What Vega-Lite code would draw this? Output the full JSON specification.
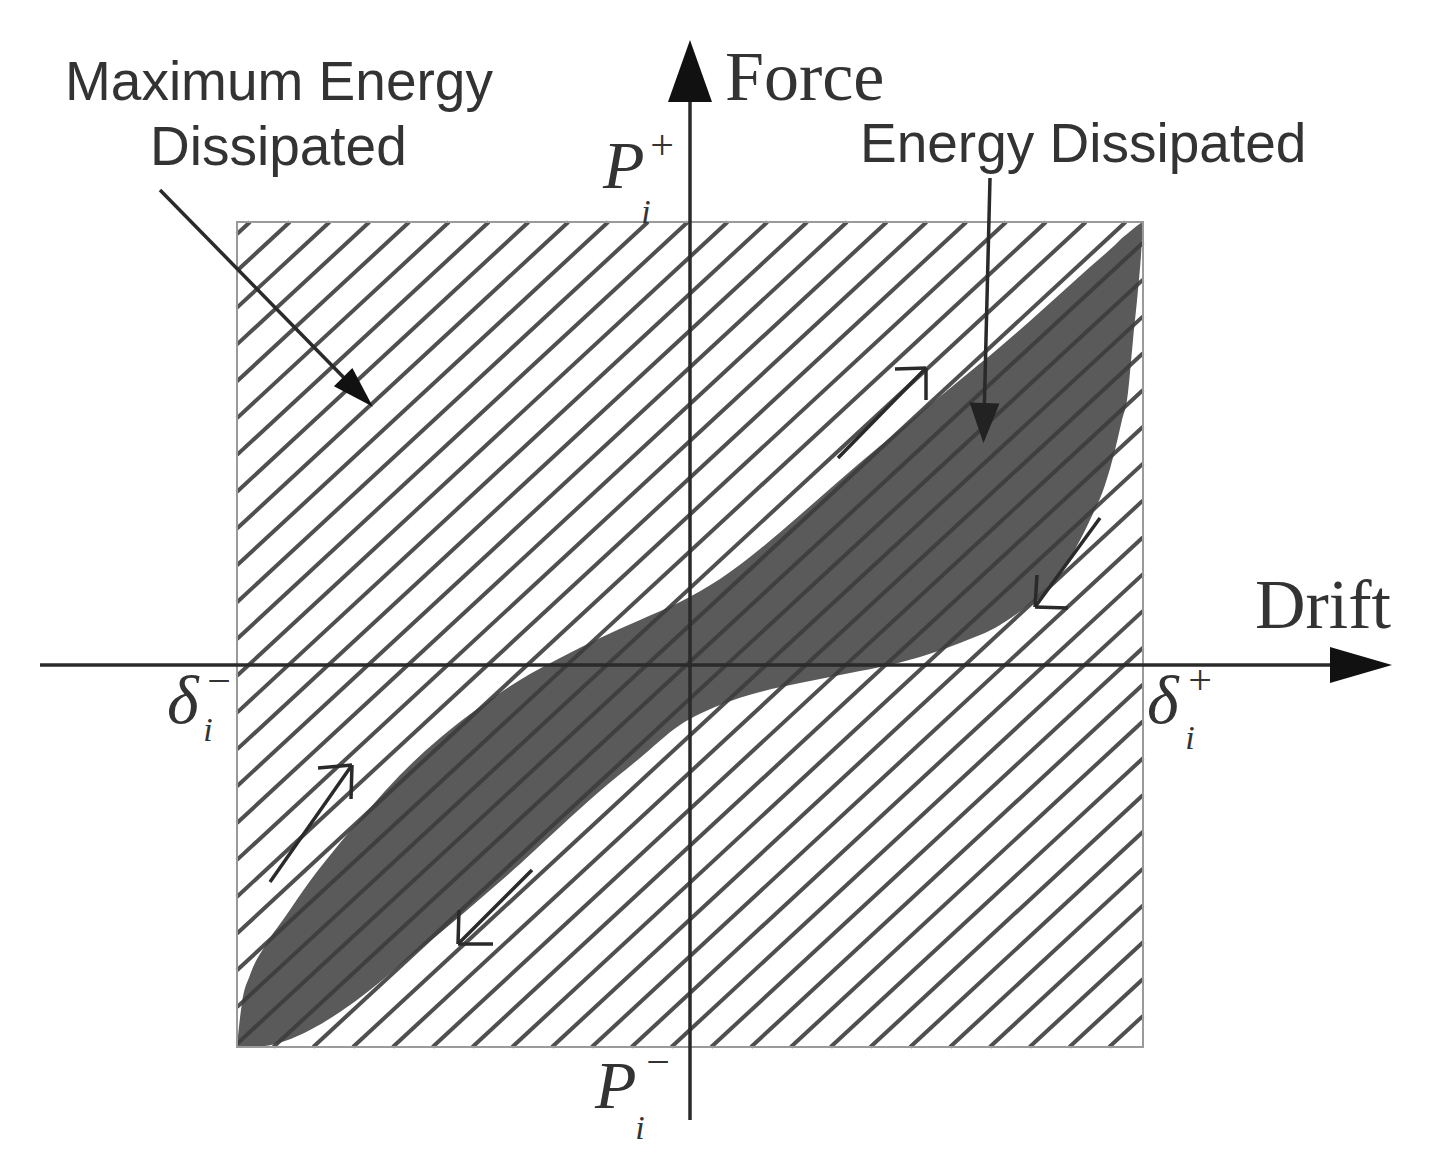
{
  "$schema": "https://vega.github.io/schema/vega-lite/v6.json",
  "width": 1430,
  "height": 1165,
  "autosize": {"type": "fit", "contains": "padding"},
  "padding": 0,
  "background": "white",
  "config": {"view": {"stroke": null}},
  "datasets": {
    "box": [{"x": -453, "x2": 453, "y": -382, "y2": 443}],
    "loop": [
      {"x": -453, "yu": -380, "yl": -382},
      {"x": -448, "yu": -338, "yl": -382},
      {"x": -440, "yu": -310, "yl": -382},
      {"x": -425, "yu": -281, "yl": -381},
      {"x": -405, "yu": -252, "yl": -376},
      {"x": -380, "yu": -216, "yl": -365},
      {"x": -350, "yu": -178, "yl": -347},
      {"x": -320, "yu": -143, "yl": -325},
      {"x": -290, "yu": -110, "yl": -300},
      {"x": -250, "yu": -73, "yl": -268},
      {"x": -210, "yu": -42, "yl": -234},
      {"x": -170, "yu": -15, "yl": -199},
      {"x": -130, "yu": 7, "yl": -162},
      {"x": -90, "yu": 27, "yl": -126},
      {"x": -50, "yu": 45, "yl": -93},
      {"x": -10, "yu": 63, "yl": -60},
      {"x": 30, "yu": 86, "yl": -40},
      {"x": 70, "yu": 116, "yl": -27},
      {"x": 110, "yu": 150, "yl": -18},
      {"x": 150, "yu": 185, "yl": -10},
      {"x": 190, "yu": 219, "yl": -2},
      {"x": 230, "yu": 252, "yl": 8},
      {"x": 270, "yu": 285, "yl": 22},
      {"x": 310, "yu": 318, "yl": 40},
      {"x": 350, "yu": 353, "yl": 71},
      {"x": 380, "yu": 380, "yl": 107},
      {"x": 400, "yu": 398, "yl": 145},
      {"x": 415, "yu": 411, "yl": 180},
      {"x": 425, "yu": 420, "yl": 215},
      {"x": 432, "yu": 427, "yl": 245},
      {"x": 437, "yu": 431, "yl": 265},
      {"x": 443, "yu": 436, "yl": 325},
      {"x": 448, "yu": 440, "yl": 375},
      {"x": 451, "yu": 442, "yl": 410},
      {"x": 453, "yu": 443, "yl": 443}
    ],
    "hatch": [
      {"x": -453, "y": 431.0, "x2": -440.0, "y2": 443},
      {"x": -453, "y": 394.2, "x2": -400.2, "y2": 443},
      {"x": -453, "y": 357.4, "x2": -360.4, "y2": 443},
      {"x": -453, "y": 320.6, "x2": -320.6, "y2": 443},
      {"x": -453, "y": 283.7, "x2": -280.8, "y2": 443},
      {"x": -453, "y": 246.9, "x2": -241.0, "y2": 443},
      {"x": -453, "y": 210.1, "x2": -201.2, "y2": 443},
      {"x": -453, "y": 173.3, "x2": -161.4, "y2": 443},
      {"x": -453, "y": 136.5, "x2": -121.6, "y2": 443},
      {"x": -453, "y": 99.7, "x2": -81.8, "y2": 443},
      {"x": -453, "y": 62.8, "x2": -42.0, "y2": 443},
      {"x": -453, "y": 26.0, "x2": -2.2, "y2": 443},
      {"x": -453, "y": -10.8, "x2": 37.6, "y2": 443},
      {"x": -453, "y": -47.6, "x2": 77.4, "y2": 443},
      {"x": -453, "y": -84.4, "x2": 117.2, "y2": 443},
      {"x": -453, "y": -121.2, "x2": 157.0, "y2": 443},
      {"x": -453, "y": -158.0, "x2": 196.8, "y2": 443},
      {"x": -453, "y": -194.9, "x2": 236.6, "y2": 443},
      {"x": -453, "y": -231.7, "x2": 276.4, "y2": 443},
      {"x": -453, "y": -268.5, "x2": 316.2, "y2": 443},
      {"x": -453, "y": -305.3, "x2": 356.0, "y2": 443},
      {"x": -453, "y": -342.1, "x2": 395.8, "y2": 443},
      {"x": -453, "y": -378.9, "x2": 435.6, "y2": 443},
      {"x": -416.6, "y": -382, "x2": 453, "y2": 422.3},
      {"x": -376.8, "y": -382, "x2": 453, "y2": 385.4},
      {"x": -337.0, "y": -382, "x2": 453, "y2": 348.6},
      {"x": -297.2, "y": -382, "x2": 453, "y2": 311.8},
      {"x": -257.4, "y": -382, "x2": 453, "y2": 275.0},
      {"x": -217.6, "y": -382, "x2": 453, "y2": 238.2},
      {"x": -177.8, "y": -382, "x2": 453, "y2": 201.4},
      {"x": -138.0, "y": -382, "x2": 453, "y2": 164.6},
      {"x": -98.2, "y": -382, "x2": 453, "y2": 127.7},
      {"x": -58.4, "y": -382, "x2": 453, "y2": 90.9},
      {"x": -18.6, "y": -382, "x2": 453, "y2": 54.1},
      {"x": 21.2, "y": -382, "x2": 453, "y2": 17.3},
      {"x": 61.0, "y": -382, "x2": 453, "y2": -19.5},
      {"x": 100.8, "y": -382, "x2": 453, "y2": -56.3},
      {"x": 140.6, "y": -382, "x2": 453, "y2": -93.2},
      {"x": 180.4, "y": -382, "x2": 453, "y2": -130.0},
      {"x": 220.2, "y": -382, "x2": 453, "y2": -166.8},
      {"x": 260.0, "y": -382, "x2": 453, "y2": -203.6},
      {"x": 299.8, "y": -382, "x2": 453, "y2": -240.4},
      {"x": 339.6, "y": -382, "x2": 453, "y2": -277.2},
      {"x": 379.4, "y": -382, "x2": 453, "y2": -314.0},
      {"x": 419.2, "y": -382, "x2": 453, "y2": -350.9}
    ],
    "lines": [
      {"part": "drift axis", "x": -650, "y": 0, "x2": 642, "y2": 0},
      {"part": "force axis", "x": 0, "y": -455, "x2": 0, "y2": 565},
      {"part": "max arrow", "x": -530, "y": 475, "x2": -335, "y2": 276},
      {"part": "energy arrow", "x": 300, "y": 487, "x2": 294, "y2": 245},
      {"part": "A shaft", "x": 148, "y": 207, "x2": 236, "y2": 297},
      {"part": "A barb1", "x": 236, "y": 297, "x2": 205, "y2": 296},
      {"part": "A barb2", "x": 236, "y": 297, "x2": 236, "y2": 265},
      {"part": "B shaft", "x": 410, "y": 147, "x2": 345, "y2": 58},
      {"part": "B barb1", "x": 345, "y": 58, "x2": 378, "y2": 57},
      {"part": "B barb2", "x": 345, "y": 58, "x2": 347, "y2": 90},
      {"part": "C shaft", "x": -420, "y": -217, "x2": -338, "y2": -100},
      {"part": "C barb1", "x": -338, "y": -100, "x2": -372, "y2": -103},
      {"part": "C barb2", "x": -338, "y": -100, "x2": -339, "y2": -134},
      {"part": "D shaft", "x": -158, "y": -205, "x2": -232, "y2": -279},
      {"part": "D barb1", "x": -232, "y": -279, "x2": -197, "y2": -279},
      {"part": "D barb2", "x": -232, "y": -279, "x2": -231, "y2": -245}
    ],
    "headUp": [{"x": 0, "y": 594}],
    "headRight": [{"x": 671, "y": 0}],
    "headMax": [{"x": -332, "y": 273}],
    "headEnergy": [{"x": 294, "y": 242}],
    "sansText": [
      {"x": -625, "y": 565, "label": "Maximum Energy"},
      {"x": -540, "y": 500, "label": "Dissipated"},
      {"x": 170, "y": 503, "label": "Energy Dissipated"}
    ],
    "serifText": [
      {"x": 35, "y": 565, "label": "Force"},
      {"x": 565, "y": 37, "label": "Drift"}
    ],
    "mathMain": [
      {"x": -87, "y": 477, "label": "P"},
      {"x": -95, "y": -443, "label": "P"},
      {"x": -523, "y": -58, "label": "δ"},
      {"x": 457, "y": -58, "label": "δ"}
    ],
    "mathSup": [
      {"x": -28, "y": 519, "label": "+"},
      {"x": -32, "y": -398, "label": "−"},
      {"x": -471, "y": -17, "label": "−"},
      {"x": 510, "y": -16, "label": "+"}
    ],
    "mathSub": [
      {"x": -44, "y": 452, "label": "i"},
      {"x": -50, "y": -464, "label": "i"},
      {"x": -482, "y": -66, "label": "i"},
      {"x": 500, "y": -74, "label": "i"}
    ]
  },
  "layer": [
    {
      "data": {"name": "loop"},
      "mark": {"type": "area", "color": "#5a5a5a", "interpolate": "monotone", "opacity": 1},
      "encoding": {
        "x": {"field": "x", "type": "quantitative", "scale": {"domain": [-690, 740], "nice": false, "zero": false}, "axis": null},
        "y": {"field": "yu", "type": "quantitative", "scale": {"domain": [-500, 665], "nice": false, "zero": false}, "axis": null},
        "y2": {"field": "yl"}
      }
    },
    {
      "data": {"name": "hatch"},
      "mark": {"type": "rule", "color": "#3c3c3c", "strokeWidth": 4, "opacity": 0.9},
      "encoding": {
        "x": {"field": "x", "type": "quantitative", "scale": {"domain": [-690, 740], "nice": false, "zero": false}, "axis": null},
        "y": {"field": "y", "type": "quantitative", "scale": {"domain": [-500, 665], "nice": false, "zero": false}, "axis": null},
        "x2": {"field": "x2"},
        "y2": {"field": "y2"}
      }
    },
    {
      "data": {"name": "box"},
      "mark": {"type": "rect", "fill": null, "fillOpacity": 0, "stroke": "#9a9a9a", "strokeWidth": 2},
      "encoding": {
        "x": {"field": "x", "type": "quantitative", "scale": {"domain": [-690, 740], "nice": false, "zero": false}, "axis": null},
        "y": {"field": "y", "type": "quantitative", "scale": {"domain": [-500, 665], "nice": false, "zero": false}, "axis": null},
        "x2": {"field": "x2"},
        "y2": {"field": "y2"}
      }
    },
    {
      "data": {"name": "lines"},
      "mark": {"type": "rule", "color": "#2a2a2a", "strokeWidth": 3.5},
      "encoding": {
        "x": {"field": "x", "type": "quantitative", "scale": {"domain": [-690, 740], "nice": false, "zero": false}, "axis": null},
        "y": {"field": "y", "type": "quantitative", "scale": {"domain": [-500, 665], "nice": false, "zero": false}, "axis": null},
        "x2": {"field": "x2"},
        "y2": {"field": "y2"}
      }
    },
    {
      "data": {"name": "headUp"},
      "mark": {"type": "point", "shape": "M0,-1L0.71,1L-0.71,1Z", "size": 3844, "filled": true, "color": "#111", "opacity": 1, "strokeWidth": 0},
      "encoding": {
        "x": {"field": "x", "type": "quantitative", "scale": {"domain": [-690, 740], "nice": false, "zero": false}, "axis": null},
        "y": {"field": "y", "type": "quantitative", "scale": {"domain": [-500, 665], "nice": false, "zero": false}, "axis": null}
      }
    },
    {
      "data": {"name": "headRight"},
      "mark": {"type": "point", "shape": "M0,-1L0.58,1L-0.58,1Z", "size": 3844, "angle": 90, "filled": true, "color": "#111", "opacity": 1, "strokeWidth": 0},
      "encoding": {
        "x": {"field": "x", "type": "quantitative", "scale": {"domain": [-690, 740], "nice": false, "zero": false}, "axis": null},
        "y": {"field": "y", "type": "quantitative", "scale": {"domain": [-500, 665], "nice": false, "zero": false}, "axis": null}
      }
    },
    {
      "data": {"name": "headMax"},
      "mark": {"type": "point", "shape": "M0,-1L0.62,1L-0.62,1Z", "size": 1764, "angle": 135, "filled": true, "color": "#111", "opacity": 1, "strokeWidth": 0},
      "encoding": {
        "x": {"field": "x", "type": "quantitative", "scale": {"domain": [-690, 740], "nice": false, "zero": false}, "axis": null},
        "y": {"field": "y", "type": "quantitative", "scale": {"domain": [-500, 665], "nice": false, "zero": false}, "axis": null}
      }
    },
    {
      "data": {"name": "headEnergy"},
      "mark": {"type": "point", "shape": "M0,-1L0.75,1L-0.75,1Z", "size": 1600, "angle": 181.5, "filled": true, "color": "#222", "opacity": 1, "strokeWidth": 0},
      "encoding": {
        "x": {"field": "x", "type": "quantitative", "scale": {"domain": [-690, 740], "nice": false, "zero": false}, "axis": null},
        "y": {"field": "y", "type": "quantitative", "scale": {"domain": [-500, 665], "nice": false, "zero": false}, "axis": null}
      }
    },
    {
      "data": {"name": "sansText"},
      "mark": {"type": "text", "font": "Liberation Sans", "fontSize": 55, "color": "#333", "align": "left", "baseline": "alphabetic"},
      "encoding": {
        "x": {"field": "x", "type": "quantitative", "scale": {"domain": [-690, 740], "nice": false, "zero": false}, "axis": null},
        "y": {"field": "y", "type": "quantitative", "scale": {"domain": [-500, 665], "nice": false, "zero": false}, "axis": null},
        "text": {"field": "label"}
      }
    },
    {
      "data": {"name": "serifText"},
      "mark": {"type": "text", "font": "Liberation Serif", "fontSize": 70, "color": "#333", "align": "left", "baseline": "alphabetic"},
      "encoding": {
        "x": {"field": "x", "type": "quantitative", "scale": {"domain": [-690, 740], "nice": false, "zero": false}, "axis": null},
        "y": {"field": "y", "type": "quantitative", "scale": {"domain": [-500, 665], "nice": false, "zero": false}, "axis": null},
        "text": {"field": "label"}
      }
    },
    {
      "data": {"name": "mathMain"},
      "mark": {"type": "text", "font": "Liberation Serif", "fontStyle": "italic", "fontSize": 68, "color": "#333", "align": "left", "baseline": "alphabetic"},
      "encoding": {
        "x": {"field": "x", "type": "quantitative", "scale": {"domain": [-690, 740], "nice": false, "zero": false}, "axis": null},
        "y": {"field": "y", "type": "quantitative", "scale": {"domain": [-500, 665], "nice": false, "zero": false}, "axis": null},
        "text": {"field": "label"}
      }
    },
    {
      "data": {"name": "mathSup"},
      "mark": {"type": "text", "font": "Liberation Serif", "fontSize": 42, "color": "#333", "align": "center", "baseline": "middle"},
      "encoding": {
        "x": {"field": "x", "type": "quantitative", "scale": {"domain": [-690, 740], "nice": false, "zero": false}, "axis": null},
        "y": {"field": "y", "type": "quantitative", "scale": {"domain": [-500, 665], "nice": false, "zero": false}, "axis": null},
        "text": {"field": "label"}
      }
    },
    {
      "data": {"name": "mathSub"},
      "mark": {"type": "text", "font": "Liberation Serif", "fontStyle": "italic", "fontSize": 34, "color": "#333", "align": "center", "baseline": "middle"},
      "encoding": {
        "x": {"field": "x", "type": "quantitative", "scale": {"domain": [-690, 740], "nice": false, "zero": false}, "axis": null},
        "y": {"field": "y", "type": "quantitative", "scale": {"domain": [-500, 665], "nice": false, "zero": false}, "axis": null},
        "text": {"field": "label"}
      }
    }
  ]
}
